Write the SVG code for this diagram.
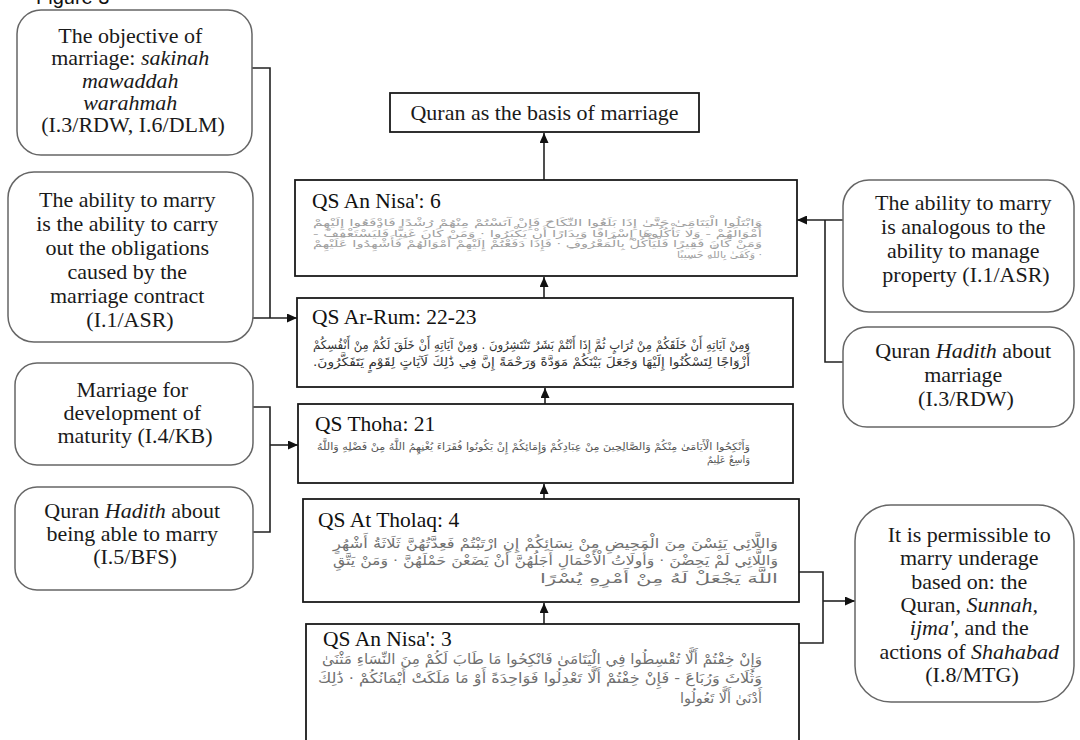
<svg xmlns="http://www.w3.org/2000/svg" width="1080" height="740" viewBox="0 0 1080 740">
<defs>
<style>
.lbl{font-family:"Liberation Serif","Times New Roman",serif;font-size:20px;fill:#1a1a1a;text-anchor:middle}
.ttl{font-family:"Liberation Serif","Times New Roman",serif;font-size:21.5px;fill:#111}
.ar{font-family:"DejaVu Sans",sans-serif}
.sq{fill:#fff;stroke:#1a1a1a;stroke-width:1.8}
.rd{fill:#fff;stroke:#666;stroke-width:1.5}
.conn{fill:none;stroke:#222;stroke-width:1.6}
.it{font-style:italic}
.fig{font-family:"Liberation Sans",Arial,sans-serif;font-size:20px;fill:#111}
</style>
<marker id="ah" markerUnits="userSpaceOnUse" viewBox="0 0 10 9" refX="10" refY="4.5" markerWidth="10" markerHeight="9" orient="auto">
<path d="M0,0 L10,4.5 L0,9 z" fill="#111"/>
</marker>
</defs>
<rect width="1080" height="740" fill="#fff"/>
<text class="fig" x="36" y="4">Figure 3</text>

<g id="connectors">
<path class="conn" d="M544,180 V133" marker-end="url(#ah)"/>
<path class="conn" d="M544,298 V277" marker-end="url(#ah)"/>
<path class="conn" d="M545,404 V388" marker-end="url(#ah)"/>
<path class="conn" d="M544,499 V484" marker-end="url(#ah)"/>
<path class="conn" d="M544,624 V603" marker-end="url(#ah)"/>
<path class="conn" d="M252,68 H270 V318"/>
<path class="conn" d="M253,318 H297" marker-end="url(#ah)"/>
<path class="conn" d="M253,407 H270 V532 H253"/>
<path class="conn" d="M270,445 H298" marker-end="url(#ah)"/>
<path class="conn" d="M843,220 H797" marker-end="url(#ah)"/>
<path class="conn" d="M825,220 V362 H843"/>
<path class="conn" d="M799,572 H823 V643 H799"/>
<path class="conn" d="M823,601 H855" marker-end="url(#ah)"/>
</g>

<g id="basis">
<rect class="sq" x="390" y="93" width="309" height="39"/>
<text class="lbl" transform="translate(544.5 120) scale(1.1 1)" x="0" y="0">Quran as the basis of marriage</text>
</g>

<g id="nisa6">
<rect class="sq" x="295" y="180" width="502" height="96"/>
<text class="ttl" x="312" y="208">QS An Nisa': 6</text>
<g class="ar" font-size="9.5" fill="#a0a0a0" direction="rtl">
<text x="762" y="226" textLength="449" lengthAdjust="spacingAndGlyphs">وَابْتَلُوا الْيَتَامَىٰ حَتَّىٰ إِذَا بَلَغُوا النِّكَاحَ فَإِنْ آنَسْتُمْ مِنْهُمْ رُشْدًا فَادْفَعُوا إِلَيْهِمْ</text>
<text x="762" y="236.5" textLength="449" lengthAdjust="spacingAndGlyphs">أَمْوَالَهُمْ - وَلَا تَأْكُلُوهَا إِسْرَافًا وَبِدَارًا أَنْ يَكْبَرُوا · وَمَنْ كَانَ غَنِيًّا فَلْيَسْتَعْفِفْ -</text>
<text x="762" y="247" textLength="449" lengthAdjust="spacingAndGlyphs">وَمَنْ كَانَ فَقِيرًا فَلْيَأْكُلْ بِالْمَعْرُوفِ · فَإِذَا دَفَعْتُمْ إِلَيْهِمْ أَمْوَالَهُمْ فَأَشْهِدُوا عَلَيْهِمْ</text>
<text x="762" y="257.5" textLength="85" lengthAdjust="spacingAndGlyphs">· وَكَفَىٰ بِاللَّهِ حَسِيبًا</text>
</g>
</g>

<g id="rum">
<rect class="sq" x="297" y="298" width="496" height="89"/>
<text class="ttl" x="312" y="324">QS Ar-Rum: 22-23</text>
<g class="ar" font-size="12" fill="#333" direction="rtl">
<text x="750" y="349" textLength="437" lengthAdjust="spacingAndGlyphs">وَمِنْ آيَاتِهِ أَنْ خَلَقَكُمْ مِنْ تُرَابٍ ثُمَّ إِذَا أَنْتُمْ بَشَرٌ تَنْتَشِرُونَ . وَمِنْ آيَاتِهِ أَنْ خَلَقَ لَكُمْ مِنْ أَنْفُسِكُمْ</text>
<text x="750" y="366" textLength="437" lengthAdjust="spacingAndGlyphs">أَزْوَاجًا لِتَسْكُنُوا إِلَيْهَا وَجَعَلَ بَيْنَكُمْ مَوَدَّةً وَرَحْمَةً إِنَّ فِي ذَٰلِكَ لَآيَاتٍ لِقَوْمٍ يَتَفَكَّرُونَ.</text>
</g>
</g>

<g id="thoha">
<rect class="sq" x="298" y="404" width="495" height="79"/>
<text class="ttl" x="315" y="431">QS Thoha: 21</text>
<g class="ar" font-size="10" fill="#555" direction="rtl">
<text x="750" y="450" textLength="433" lengthAdjust="spacingAndGlyphs">وَأَنْكِحُوا الْأَيَامَىٰ مِنْكُمْ وَالصَّالِحِينَ مِنْ عِبَادِكُمْ وَإِمَائِكُمْ إِنْ يَكُونُوا فُقَرَاءَ يُغْنِهِمُ اللَّهُ مِنْ فَضْلِهِ وَاللَّهُ</text>
<text x="750" y="463" textLength="43" lengthAdjust="spacingAndGlyphs">وَاسِعٌ عَلِيمٌ</text>
</g>
</g>

<g id="tholaq">
<rect class="sq" x="303" y="499" width="496" height="103"/>
<text class="ttl" x="318" y="527">QS At Tholaq: 4</text>
<g class="ar" font-size="13" fill="#707070" direction="rtl">
<text x="778" y="548" textLength="445" lengthAdjust="spacingAndGlyphs">وَاللَّائِي يَئِسْنَ مِنَ الْمَحِيضِ مِنْ نِسَائِكُمْ إِنِ ارْتَبْتُمْ فَعِدَّتُهُنَّ ثَلَاثَةُ أَشْهُرٍ</text>
<text x="778" y="565" textLength="445" lengthAdjust="spacingAndGlyphs">وَاللَّائِي لَمْ يَحِضْنَ · وَأُولَاتُ الْأَحْمَالِ أَجَلُهُنَّ أَنْ يَضَعْنَ حَمْلَهُنَّ · وَمَنْ يَتَّقِ</text>
<text x="778" y="583" textLength="238" lengthAdjust="spacingAndGlyphs">اللَّهَ يَجْعَلْ لَهُ مِنْ أَمْرِهِ يُسْرًا</text>
</g>
</g>

<g id="nisa3">
<rect class="sq" x="306" y="624" width="493" height="140"/>
<text class="ttl" x="323" y="646">QS An Nisa': 3</text>
<g class="ar" font-size="14" fill="#707070" direction="rtl">
<text x="762" y="664" textLength="440" lengthAdjust="spacingAndGlyphs">وَإِنْ خِفْتُمْ أَلَّا تُقْسِطُوا فِي الْيَتَامَىٰ فَانْكِحُوا مَا طَابَ لَكُمْ مِنَ النِّسَاءِ مَثْنَىٰ</text>
<text x="762" y="683" textLength="444" lengthAdjust="spacingAndGlyphs">وَثُلَاثَ وَرُبَاعَ - فَإِنْ خِفْتُمْ أَلَّا تَعْدِلُوا فَوَاحِدَةً أَوْ مَا مَلَكَتْ أَيْمَانُكُمْ · ذَٰلِكَ</text>
<text x="762" y="703" textLength="82" lengthAdjust="spacingAndGlyphs">أَدْنَىٰ أَلَّا تَعُولُوا</text>
</g>
</g>

<g id="objective">
<rect class="rd" x="17" y="10" width="235" height="145" rx="24"/>
<text class="lbl" transform="translate(133 0) scale(1.1 1)">
<tspan x="0" y="43">The objective of</tspan>
<tspan x="0" y="65.5">marriage: <tspan class="it">sakinah</tspan></tspan>
<tspan x="0" y="88" class="it">mawaddah</tspan>
<tspan x="0" y="110" class="it">warahmah</tspan>
<tspan x="0" y="132">(I.3/RDW, I.6/DLM)</tspan>
</text>
</g>

<g id="ability">
<rect class="rd" x="8" y="172" width="245" height="170" rx="26"/>
<text class="lbl" transform="translate(130 0) scale(1.1 1)">
<tspan x="0" y="207">The ability to marry</tspan>
<tspan x="0" y="231">is the ability to carry</tspan>
<tspan x="0" y="255">out the obligations</tspan>
<tspan x="0" y="279">caused by the</tspan>
<tspan x="0" y="303">marriage contract</tspan>
<tspan x="0" y="327">(I.1/ASR)</tspan>
</text>
</g>

<g id="maturity">
<rect class="rd" x="15" y="363" width="238" height="102" rx="22"/>
<text class="lbl" transform="translate(135 0) scale(1.1 1)">
<tspan x="0" y="397">Marriage for</tspan>
<tspan x="0" y="420">development of</tspan>
<tspan x="0" y="443">maturity (I.4/KB)</tspan>
</text>
</g>

<g id="hadith-able">
<rect class="rd" x="15" y="487" width="238" height="103" rx="22"/>
<text class="lbl" transform="translate(135 0) scale(1.1 1)">
<tspan x="0" y="518">Quran <tspan class="it">Hadith</tspan> about</tspan>
<tspan x="0" y="541">being able to marry</tspan>
<tspan x="0" y="564">(I.5/BFS)</tspan>
</text>
</g>

<g id="property">
<rect class="rd" x="843" y="180" width="231" height="132" rx="26"/>
<text class="lbl" transform="translate(966 0) scale(1.1 1)">
<tspan x="0" y="210">The ability to marry</tspan>
<tspan x="0" y="234">is analogous to the</tspan>
<tspan x="0" y="258">ability to manage</tspan>
<tspan x="0" y="282">property (I.1/ASR)</tspan>
</text>
</g>

<g id="hadith-marriage">
<rect class="rd" x="843" y="327" width="231" height="100" rx="24"/>
<text class="lbl" transform="translate(966 0) scale(1.1 1)">
<tspan x="0" y="358">Quran <tspan class="it">Hadith</tspan> about</tspan>
<tspan x="0" y="382">marriage</tspan>
<tspan x="0" y="406">(I.3/RDW)</tspan>
</text>
</g>

<g id="underage">
<rect class="rd" x="855" y="505" width="219" height="197" rx="36"/>
<text class="lbl" transform="translate(972 0) scale(1.1 1)">
<tspan x="0" y="542">It is permissible to</tspan>
<tspan x="0" y="565">marry underage</tspan>
<tspan x="0" y="589">based on: the</tspan>
<tspan x="0" y="612">Quran, <tspan class="it">Sunnah,</tspan></tspan>
<tspan x="0" y="635"><tspan class="it">ijma'</tspan>, and the</tspan>
<tspan x="0" y="659">actions of <tspan class="it">Shahabad</tspan></tspan>
<tspan x="0" y="682">(I.8/MTG)</tspan>
</text>
</g>
</svg>
